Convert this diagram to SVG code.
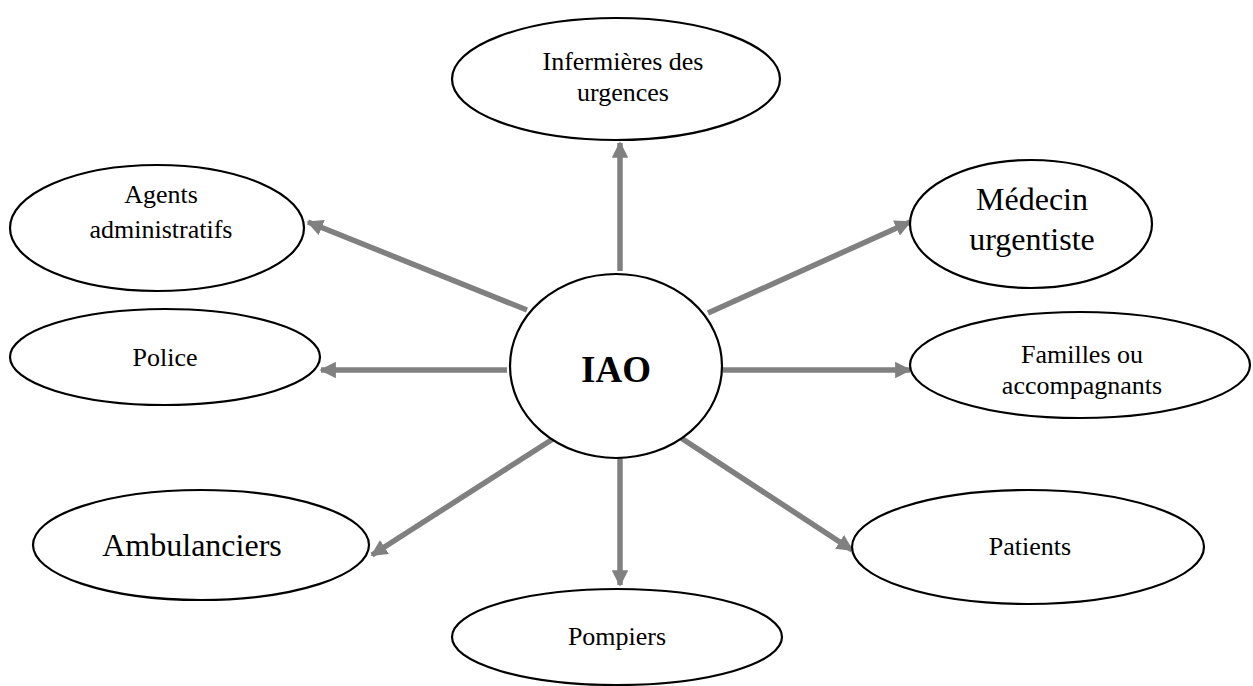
<svg xmlns="http://www.w3.org/2000/svg" width="1253" height="686" viewBox="0 0 1253 686">
  <style>
    .node { fill: #ffffff; stroke: #000000; stroke-width: 2.2; }
    .lbl { font-family: "Liberation Serif", "Times New Roman", serif; font-size: 26px; fill: #000; text-anchor: middle; }
    .big { font-size: 32px; }
    .hub { font-size: 37px; font-weight: bold; }
    .edge { stroke: #808080; stroke-width: 5.5; fill: none; marker-end: url(#arrow); }
  </style>
  <defs>
    <marker id="arrow" viewBox="0 0 10 10" refX="9" refY="5" markerWidth="3" markerHeight="3" orient="auto" markerUnits="strokeWidth">
      <path d="M0,0 L10,5 L0,10 z" fill="#808080"/>
    </marker>
  </defs>

  <!-- connectors from the hub to each partner -->
  <g id="connectors">
    <line class="edge" x1="620" y1="271" x2="620" y2="143"/>
    <line class="edge" x1="527" y1="310" x2="308" y2="222"/>
    <line class="edge" x1="708" y1="313" x2="910" y2="222"/>
    <line class="edge" x1="507" y1="370" x2="321" y2="370"/>
    <line class="edge" x1="723" y1="370" x2="910" y2="370"/>
    <line class="edge" x1="556" y1="437" x2="372" y2="555"/>
    <line class="edge" x1="620" y1="453" x2="620" y2="585"/>
    <line class="edge" x1="678" y1="436" x2="852" y2="550"/>
  </g>

  <g id="iao">
    <ellipse class="node" cx="616" cy="366" rx="106" ry="92"/>
    <text class="lbl hub" x="616" y="382">IAO</text>
  </g>

  <g id="infirmieres">
    <ellipse class="node" cx="616" cy="79" rx="164" ry="61"/>
    <text class="lbl" x="623" y="70">Infermières des</text>
    <text class="lbl" x="623" y="101">urgences</text>
  </g>

  <g id="agents">
    <ellipse class="node" cx="157" cy="228" rx="147" ry="63"/>
    <text class="lbl" x="161" y="203">Agents</text>
    <text class="lbl" x="161" y="238">administratifs</text>
  </g>

  <g id="medecin">
    <ellipse class="node" cx="1031" cy="224" rx="121" ry="64"/>
    <text class="lbl big" x="1032" y="210">Médecin</text>
    <text class="lbl big" x="1032" y="250">urgentiste</text>
  </g>

  <g id="police">
    <ellipse class="node" cx="165" cy="357" rx="155" ry="48"/>
    <text class="lbl" x="165" y="366">Police</text>
  </g>

  <g id="familles">
    <ellipse class="node" cx="1080" cy="365" rx="170" ry="53"/>
    <text class="lbl" x="1082" y="363">Familles ou</text>
    <text class="lbl" x="1082" y="394">accompagnants</text>
  </g>

  <g id="ambulanciers">
    <ellipse class="node" cx="201" cy="545" rx="168" ry="55"/>
    <text class="lbl big" x="192" y="556">Ambulanciers</text>
  </g>

  <g id="patients">
    <ellipse class="node" cx="1028" cy="547" rx="176" ry="57"/>
    <text class="lbl" x="1030" y="555">Patients</text>
  </g>

  <g id="pompiers">
    <ellipse class="node" cx="617" cy="637" rx="165" ry="48"/>
    <text class="lbl" x="617" y="645">Pompiers</text>
  </g>
</svg>
